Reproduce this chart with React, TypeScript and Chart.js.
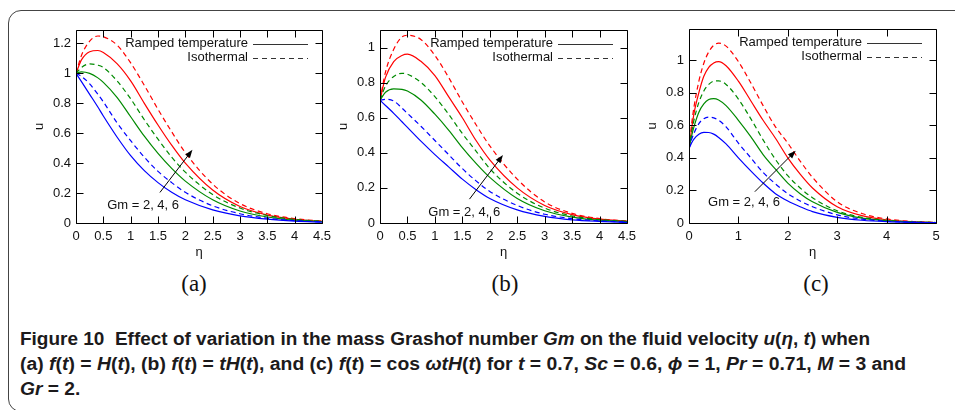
import React, { useEffect, useLayoutEffect, useRef } from "react";
import { Chart, registerables } from "chart.js";

Chart.register(...registerables);

// ---------- Panel (a): f(t) = H(t) ----------
const ETA_A = [0, 0.1, 0.25, 0.4, 0.5, 0.75, 1, 1.25, 1.5, 1.75, 2, 2.5, 3, 3.5, 4, 4.5];
const A_RAMP_GM2 = [1, 0.945, 0.86, 0.775, 0.715, 0.575, 0.45, 0.35, 0.27, 0.205, 0.155, 0.088, 0.048, 0.026, 0.013, 0.006];
const A_ISO_GM2 = [1, 0.98, 0.93, 0.86, 0.81, 0.67, 0.55, 0.44, 0.345, 0.27, 0.205, 0.115, 0.062, 0.032, 0.016, 0.007];
const A_RAMP_GM4 = [1, 1.01, 1.0, 0.97, 0.94, 0.84, 0.71, 0.58, 0.465, 0.365, 0.28, 0.155, 0.08, 0.04, 0.019, 0.009];
const A_ISO_GM4 = [1, 1.04, 1.063, 1.055, 1.04, 0.95, 0.83, 0.69, 0.56, 0.44, 0.34, 0.19, 0.1, 0.05, 0.024, 0.011];
const A_RAMP_GM6 = [1, 1.09, 1.145, 1.153, 1.14, 1.065, 0.95, 0.8, 0.655, 0.52, 0.4, 0.22, 0.11, 0.053, 0.025, 0.011];
const A_ISO_GM6 = [1, 1.12, 1.215, 1.25, 1.245, 1.19, 1.07, 0.92, 0.76, 0.61, 0.47, 0.26, 0.13, 0.062, 0.029, 0.013];

// ---------- Panel (b): f(t) = tH(t) ----------
const ETA_B = [0, 0.1, 0.25, 0.4, 0.5, 0.75, 1, 1.25, 1.5, 1.75, 2, 2.5, 3, 3.5, 4, 4.5];
const B_RAMP_GM2 = [0.7, 0.67, 0.625, 0.577, 0.545, 0.465, 0.39, 0.32, 0.25, 0.19, 0.14, 0.075, 0.038, 0.018, 0.009, 0.004];
const B_ISO_GM2 = [0.7, 0.705, 0.695, 0.655, 0.625, 0.55, 0.47, 0.39, 0.31, 0.24, 0.18, 0.1, 0.05, 0.025, 0.012, 0.006];
const B_RAMP_GM4 = [0.7, 0.745, 0.765, 0.762, 0.752, 0.7, 0.62, 0.53, 0.43, 0.34, 0.26, 0.14, 0.07, 0.034, 0.016, 0.008];
const B_ISO_GM4 = [0.7, 0.78, 0.835, 0.853, 0.848, 0.8, 0.72, 0.62, 0.51, 0.41, 0.31, 0.17, 0.085, 0.04, 0.019, 0.009];
const B_RAMP_GM6 = [0.7, 0.83, 0.92, 0.955, 0.962, 0.92, 0.84, 0.72, 0.6, 0.47, 0.36, 0.2, 0.1, 0.048, 0.022, 0.01];
const B_ISO_GM6 = [0.7, 0.86, 0.99, 1.06, 1.07, 1.045, 0.955, 0.83, 0.69, 0.56, 0.44, 0.25, 0.12, 0.055, 0.025, 0.011];

// ---------- Panel (c): f(t) = cos(wt)H(t) ----------
const ETA_C = [0, 0.05, 0.1, 0.2, 0.3, 0.4, 0.5, 0.6, 0.75, 1, 1.25, 1.5, 1.75, 2, 2.25, 2.5, 3, 3.5, 4, 4.5, 5];
const C_RAMP_GM2 = [0.455, 0.49, 0.515, 0.545, 0.556, 0.555, 0.545, 0.525, 0.485, 0.4, 0.32, 0.245, 0.18, 0.135, 0.1, 0.07, 0.035, 0.017, 0.008, 0.004, 0.002];
const C_ISO_GM2 = [0.455, 0.51, 0.55, 0.61, 0.64, 0.65, 0.645, 0.63, 0.59, 0.49, 0.4, 0.31, 0.24, 0.18, 0.135, 0.1, 0.05, 0.024, 0.011, 0.005, 0.002];
const C_RAMP_GM4 = [0.455, 0.53, 0.59, 0.68, 0.73, 0.757, 0.763, 0.755, 0.72, 0.63, 0.53, 0.42, 0.33, 0.245, 0.18, 0.13, 0.065, 0.03, 0.014, 0.006, 0.003];
const C_ISO_GM4 = [0.455, 0.55, 0.63, 0.74, 0.81, 0.85, 0.87, 0.872, 0.85, 0.76, 0.64, 0.51, 0.39, 0.29, 0.215, 0.155, 0.075, 0.035, 0.016, 0.007, 0.003];
const C_RAMP_GM6 = [0.455, 0.57, 0.67, 0.8, 0.9, 0.955, 0.982, 0.99, 0.965, 0.87, 0.75, 0.63, 0.52, 0.4, 0.3, 0.215, 0.1, 0.045, 0.02, 0.008, 0.003];
const C_ISO_GM6 = [0.455, 0.6, 0.71, 0.87, 0.98, 1.05, 1.09, 1.103, 1.085, 0.99, 0.86, 0.72, 0.59, 0.49, 0.38, 0.28, 0.13, 0.058, 0.025, 0.01, 0.004];

// axis ranges / ticks
const X_MAX = [4.5, 4.5, 5];
const X_STEP = [0.5, 0.5, 1];
const Y_MAX = [1.29, 1.1, 1.19];
const Y_STEP = 0.2;

// annotations (data coordinates): arrow [from, to], label anchor
const ARROWS = [
  [[1.535, 0.204], [2.13, 0.489]],
  [[1.63, 0.136], [2.24, 0.387]],
  [[1.333, 0.192], [2.16, 0.443]],
];
const GM_LABEL_POS = [[0.57, 0.117], [0.88, 0.06], [0.385, 0.124]];
const GM_LABEL = "Gm = 2, 4, 6";
const LEGEND_LABELS = ["Ramped temperature", "Isothermal"];
const PANEL_TAGS = ["(a)", "(b)", "(c)"];

const RED = "#ff0000";
const GREEN = "#008a00";
const BLUE = "#0000ff";
const FONT = "'Liberation Sans', Arial, Helvetica, sans-serif";

type Layout = { left: number; top: number; plotW: number; plotH: number };
const LAYOUTS: Layout[] = [
  { left: 76, top: 30, plotW: 246, plotH: 193 },
  { left: 380, top: 30, plotW: 247, plotH: 193 },
  { left: 689, top: 29, plotW: 247, plotH: 194 },
];
const Y_AXIS_W = 50;
const X_AXIS_H = 40;
const PAD_TOP = 8;
const PAD_RIGHT = 14;

const fmtTick = (v: any) => String(Math.round(Number(v) * 100) / 100);

const gnuFrame = {
  id: "gnuFrame",
  afterDatasetsDraw(chart: any, _args: any, opts: any) {
    const { ctx, chartArea: a, scales } = chart;
    const xs = scales.x;
    const ys = scales.y;
    const L = Math.round(a.left) + 0.5;
    const R = Math.round(a.right) + 0.5;
    const T = Math.round(a.top) + 0.5;
    const B = Math.round(a.bottom) + 0.5;
    ctx.save();
    ctx.strokeStyle = "#000";
    ctx.lineWidth = 1;
    ctx.setLineDash([]);
    ctx.beginPath();
    ctx.rect(L, T, R - L, B - T);
    const tl = 7;
    xs.ticks.forEach((t: any) => {
      const px = Math.round(xs.getPixelForValue(t.value)) + 0.5;
      ctx.moveTo(px, B);
      ctx.lineTo(px, B - tl);
      ctx.moveTo(px, T);
      ctx.lineTo(px, T + tl);
    });
    ys.ticks.forEach((t: any) => {
      const py = Math.round(ys.getPixelForValue(t.value)) + 0.5;
      ctx.moveTo(L, py);
      ctx.lineTo(L + tl, py);
      ctx.moveTo(R, py);
      ctx.lineTo(R - tl, py);
    });
    ctx.stroke();

    // legend
    ctx.font = `13px ${FONT}`;
    ctx.fillStyle = "#111";
    ctx.textAlign = "right";
    ctx.textBaseline = "middle";
    const rows = [a.top + 13.5, a.top + 27.5];
    LEGEND_LABELS.forEach((lab, i) => {
      ctx.fillText(lab, a.right - 74, rows[i]);
      ctx.beginPath();
      ctx.strokeStyle = "#333";
      ctx.lineWidth = 1.2;
      ctx.setLineDash(i === 0 ? [] : [5, 4]);
      ctx.moveTo(a.right - 69, Math.round(rows[i]) + 0.5);
      ctx.lineTo(a.right - 14, Math.round(rows[i]) + 0.5);
      ctx.stroke();
    });
    ctx.setLineDash([]);

    // arrow
    const [[x0, y0], [x1, y1]] = opts.arrow;
    const p0x = xs.getPixelForValue(x0);
    const p0y = ys.getPixelForValue(y0);
    const p1x = xs.getPixelForValue(x1);
    const p1y = ys.getPixelForValue(y1);
    const ang = Math.atan2(p1y - p0y, p1x - p0x);
    const hl = 8;
    const hw = 3;
    ctx.strokeStyle = "#000";
    ctx.fillStyle = "#000";
    ctx.lineWidth = 1;
    ctx.beginPath();
    ctx.moveTo(p0x, p0y);
    ctx.lineTo(p1x - Math.cos(ang) * hl * 0.8, p1y - Math.sin(ang) * hl * 0.8);
    ctx.stroke();
    ctx.beginPath();
    ctx.moveTo(p1x, p1y);
    ctx.lineTo(
      p1x - Math.cos(ang) * hl - Math.sin(ang) * hw,
      p1y - Math.sin(ang) * hl + Math.cos(ang) * hw
    );
    ctx.lineTo(
      p1x - Math.cos(ang) * hl + Math.sin(ang) * hw,
      p1y - Math.sin(ang) * hl - Math.cos(ang) * hw
    );
    ctx.closePath();
    ctx.fill();

    // Gm label
    ctx.fillStyle = "#111";
    ctx.textAlign = "left";
    ctx.textBaseline = "middle";
    ctx.font = `13px ${FONT}`;
    ctx.fillText(GM_LABEL, xs.getPixelForValue(opts.label[0]), ys.getPixelForValue(opts.label[1]));
    ctx.restore();
  },
};

type PanelData = { eta: number[]; series: number[][] };
const PANELS: PanelData[] = [
  { eta: ETA_A, series: [A_RAMP_GM2, A_ISO_GM2, A_RAMP_GM4, A_ISO_GM4, A_RAMP_GM6, A_ISO_GM6] },
  { eta: ETA_B, series: [B_RAMP_GM2, B_ISO_GM2, B_RAMP_GM4, B_ISO_GM4, B_RAMP_GM6, B_ISO_GM6] },
  { eta: ETA_C, series: [C_RAMP_GM2, C_ISO_GM2, C_RAMP_GM4, C_ISO_GM4, C_RAMP_GM6, C_ISO_GM6] },
];
const SERIES_COLORS = [BLUE, BLUE, GREEN, GREEN, RED, RED];
const SERIES_LABELS = ["Gm=2 ramped", "Gm=2 isothermal", "Gm=4 ramped", "Gm=4 isothermal", "Gm=6 ramped", "Gm=6 isothermal"];

function Panel({ idx }: { idx: number }) {
  const ref = useRef<HTMLCanvasElement | null>(null);
  const lay = LAYOUTS[idx];
  const cw = Y_AXIS_W + lay.plotW + PAD_RIGHT;
  const ch = PAD_TOP + lay.plotH + X_AXIS_H;

  useEffect(() => {
    if (!ref.current) return;
    const p = PANELS[idx];
    const tickFont = { family: FONT, size: 13 };
    const chart = new Chart(ref.current, {
      type: "line",
      data: {
        datasets: p.series.map((s, i) => ({
          label: SERIES_LABELS[i],
          data: p.eta.map((x, k) => ({ x, y: s[k] })),
          borderColor: SERIES_COLORS[i],
          backgroundColor: SERIES_COLORS[i],
          borderWidth: 1.2,
          borderDash: i % 2 === 1 ? [5, 3.5] : [],
          pointRadius: 0,
          fill: false,
          cubicInterpolationMode: "monotone" as const,
        })),
      },
      options: {
        responsive: false,
        maintainAspectRatio: false,
        animation: false,
        devicePixelRatio: 1,
        layout: { padding: { top: PAD_TOP, right: PAD_RIGHT, left: 0, bottom: 0 } },
        plugins: {
          legend: { display: false },
          tooltip: { enabled: false },
          gnuFrame: { arrow: ARROWS[idx], label: GM_LABEL_POS[idx] },
        } as any,
        scales: {
          x: {
            type: "linear",
            min: 0,
            max: X_MAX[idx],
            grid: { display: false, drawTicks: false },
            border: { display: false },
            ticks: {
              stepSize: X_STEP[idx],
              font: tickFont,
              color: "#111",
              padding: 6,
              maxRotation: 0,
              autoSkip: false,
              includeBounds: false,
              callback: fmtTick,
            },
            title: {
              display: true,
              text: "η",
              color: "#111",
              font: { family: FONT, size: 13 },
              padding: { top: 0, bottom: 3 },
            },
            afterFit: (s: any) => {
              s.height = X_AXIS_H;
              s.paddingLeft = 0;
              s.paddingRight = 0;
            },
          },
          y: {
            type: "linear",
            min: 0,
            max: Y_MAX[idx],
            grid: { display: false, drawTicks: false },
            border: { display: false },
            ticks: {
              stepSize: Y_STEP,
              font: tickFont,
              color: "#111",
              padding: 5,
              autoSkip: false,
              includeBounds: false,
              callback: fmtTick,
            },
            title: {
              display: true,
              text: "u",
              color: "#111",
              font: { family: FONT, size: 13 },
              padding: { top: 6, bottom: 0 },
            },
            afterFit: (s: any) => {
              s.width = Y_AXIS_W;
              s.paddingTop = 0;
              s.paddingBottom = 0;
            },
          },
        },
      } as any,
      plugins: [gnuFrame],
    });
    return () => chart.destroy();
  }, [idx]);

  return (
    <canvas
      ref={ref}
      width={cw}
      height={ch}
      style={{
        position: "absolute",
        left: lay.left - Y_AXIS_W,
        top: lay.top - PAD_TOP,
        width: cw,
        height: ch,
      }}
    />
  );
}

const TAG_X = [194, 505, 816];
const CAPTION_LEFT = 20;
const CAPTION_LINE1_W = 850;
const CAPTION_LINE2_W = 886;

export default function App() {
  const l1 = useRef<HTMLSpanElement | null>(null);
  const l2 = useRef<HTMLSpanElement | null>(null);
  const l3 = useRef<HTMLSpanElement | null>(null);

  useLayoutEffect(() => {
    if (!l1.current || !l2.current || !l3.current) return;
    const w1 = l1.current.getBoundingClientRect().width;
    const w2 = l2.current.getBoundingClientRect().width;
    const f1 = w1 > 0 ? CAPTION_LINE1_W / w1 : 1;
    const f2 = w2 > 0 ? CAPTION_LINE2_W / w2 : 1;
    l1.current.style.transform = `scaleX(${f1})`;
    l2.current.style.transform = `scaleX(${f2})`;
    l3.current.style.transform = `scaleX(${(f1 + f2) / 2})`;
  }, []);

  const lineStyle: React.CSSProperties = {
    position: "absolute",
    left: CAPTION_LEFT,
    display: "inline-block",
    whiteSpace: "nowrap",
    fontFamily: "'Liberation Sans', Arial, sans-serif",
    fontWeight: 700,
    fontSize: 18,
    lineHeight: "25px",
    color: "#1c1a1b",
    transformOrigin: "0 50%",
  };
  return (
    <div
      style={{
        position: "fixed",
        left: 0,
        top: 0,
        width: 955,
        height: 410,
        overflow: "hidden",
        background: "#fff",
      }}
    >
      <div
        style={{
          position: "absolute",
          left: 8,
          top: 10,
          width: 980,
          height: 402,
          border: "1.4px solid #444",
          borderRadius: 13,
          boxSizing: "border-box",
        }}
      />
      {[0, 1, 2].map((i) => (
        <Panel key={i} idx={i} />
      ))}
      {PANEL_TAGS.map((t, i) => (
        <div
          key={t}
          style={{
            position: "absolute",
            left: TAG_X[i] - 30,
            width: 60,
            top: 270,
            textAlign: "center",
            fontFamily: "'Liberation Serif', 'Times New Roman', serif",
            fontSize: 23,
            lineHeight: "28px",
            color: "#111",
          }}
        >
          {t}
        </div>
      ))}
      <span ref={l1} style={{ ...lineStyle, top: 327 }}>
        Figure 10&nbsp;&nbsp;Effect of variation in the mass Grashof number <i>Gm</i> on the fluid velocity{" "}
        <i>u</i>(<i>η</i>, <i>t</i>) when
      </span>
      <span ref={l2} style={{ ...lineStyle, top: 352 }}>
        (a) <i>f</i>(<i>t</i>) = <i>H</i>(<i>t</i>), (b) <i>f</i>(<i>t</i>) = <i>tH</i>(<i>t</i>), and (c){" "}
        <i>f</i>(<i>t</i>) = cos <i>ωtH</i>(<i>t</i>) for <i>t</i> = 0.7, <i>Sc</i> = 0.6, <i>ϕ</i> = 1,{" "}
        <i>Pr</i> = 0.71, <i>M</i> = 3 and
      </span>
      <span ref={l3} style={{ ...lineStyle, top: 377 }}>
        <i>Gr</i> = 2.
      </span>
    </div>
  );
}
